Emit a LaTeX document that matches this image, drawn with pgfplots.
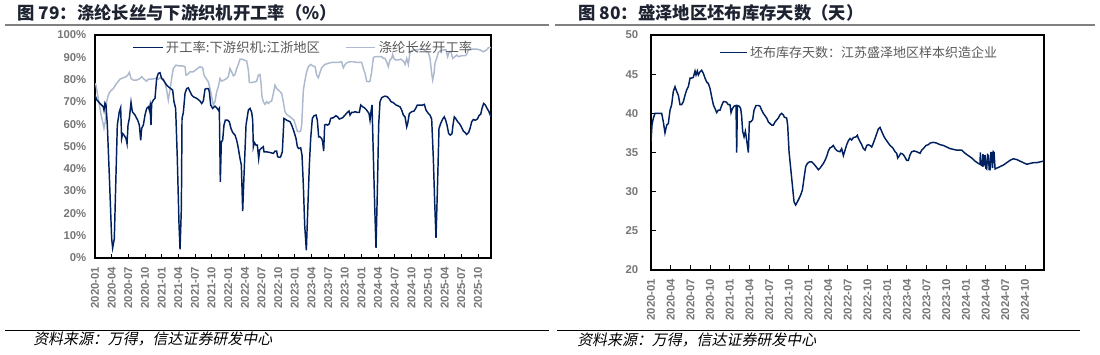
\documentclass[border=0pt]{standalone}
\usepackage{fontspec}
\setmainfont{Liberation Sans}
\newfontfamily\cjk{Noto Sans CJK SC}
\newfontfamily\cjksrc[FakeSlant=0.2]{Noto Sans CJK SC}
\usepackage{pgfplots}
\pgfplotsset{compat=1.18}
\definecolor{navy}{RGB}{0,32,96}
\definecolor{lblue}{RGB}{173,185,205}
\definecolor{tickgray}{RGB}{118,118,118}
\definecolor{leggray}{RGB}{89,89,89}
\definecolor{rulegray}{RGB}{128,128,128}
\definecolor{titlecol}{RGB}{30,35,50}
\begin{document}
\begin{tikzpicture}[x=0.75pt,y=0.75pt]
\path[use as bounding box] (0,0) rectangle (1100,354);
% titles and rules
\node[anchor=west,inner sep=0pt,font=\cjk\bfseries\fontsize{13}{15}\selectfont,text=titlecol] at (17,341) {图 79：涤纶长丝与下游织机开工率（\%）};
\node[anchor=west,inner sep=0pt,font=\cjk\bfseries\fontsize{13}{15}\selectfont,text=titlecol] at (578,341) {图 80：盛泽地区坯布库存天数（天）};
\draw[rulegray,line width=1.5pt] (5,329)--(549,329);
\draw[rulegray,line width=1.5pt] (555,329)--(1095,329);
\draw[black,line width=0.75pt] (5,23.5)--(549,23.5);
\draw[black,line width=0.75pt] (557,23.5)--(1080,23.5);
\node[anchor=west,inner sep=0pt,font=\cjksrc\fontsize{11.2}{13}\selectfont] at (33,15) {资料来源：万得，信达证券研发中心};
\node[anchor=west,inner sep=0pt,font=\cjksrc\fontsize{11.2}{13}\selectfont] at (577,14) {资料来源：万得，信达证券研发中心};

%% LEFT PANEL
\begin{axis}[
  at={(71.25pt,72pt)}, anchor=south west, scale only axis,
  width=297pt, height=167.25pt,
  xmin=0, xmax=71.35, ymin=0, ymax=100,
  xtick={0,3,...,69},
  xticklabels={2020-01,2020-04,2020-07,2020-10,2021-01,2021-04,2021-07,2021-10,2022-01,2022-04,2022-07,2022-10,2023-01,2023-04,2023-07,2023-10,2024-01,2024-04,2024-07,2024-10,2025-01,2025-04,2025-07,2025-10},
  ytick={0,10,...,100},
  yticklabels={0\%,10\%,20\%,30\%,40\%,50\%,60\%,70\%,80\%,90\%,100\%},
  axis line style={black,line width=0.9pt},
  tick align=inside, xtick pos=bottom, ytick pos=left,
  major tick length=3pt,
  xtick style={black,line width=0.6pt},
  ytick style={draw=none},
  tick label style={font=\fontsize{8.5}{10}\selectfont\bfseries,text=tickgray},
  yticklabel style={xshift=-3pt},
  xticklabel style={rotate=90,anchor=east},
  xticklabel shift=3pt,
  legend columns=2,
  legend style={draw=none,fill=none,at={(0.094,0.943)},anchor=west,inner sep=0pt,
    font=\cjk\fontsize{10}{12}\selectfont,text=leggray,
    /tikz/every even column/.append style={column sep=17pt}},
  legend cell align=left,
  legend image code/.code={\draw[#1] (0pt,0pt) -- (22pt,0pt);},
]
\addplot[lblue,line width=1.1pt,forget plot] coordinates {
(0,78.3) (0.18,77.5) (0.48,73.1) (0.78,68.6) (1.08,64.4) (1.38,61.1) (1.62,58.1) (1.86,61.1) (2.1,70.1) (2.4,73.1) (2.7,74.6) (3.3,76.0) (3.9,78.3) (4.5,80.2) (5.1,80.8) (5.59,81.3) (5.89,82.0) (6.19,83.2) (6.49,80.5) (6.91,79.8) (7.51,79.8) (8.11,80.5) (8.41,81.3) (8.83,80.2) (9.31,79.3) (9.61,80.2) (10.21,80.2) (10.81,80.5) (11.41,80.2) (11.71,80.8) (12.31,80.5) (12.61,78.3) (12.91,75.3) (13.21,70.8) (13.51,75.3) (13.81,80.5) (14.11,85.0) (14.59,86.5) (15.02,86.2) (15.62,86.2) (16.22,85.8) (16.4,82.0) (16.7,82.3) (17.12,83.5) (17.72,83.5) (18.32,84.7) (18.92,85.8) (19.4,85.3) (19.64,82.0) (20.0,80.5) (20.42,79.0) (20.72,76.0) (21.02,72.3) (21.32,68.6) (21.62,70.1) (21.92,74.6) (22.22,76.8) (22.52,80.5) (22.82,79.3) (23.24,79.8) (23.72,80.5) (24.02,81.3) (24.32,85.0) (24.62,83.5) (24.92,81.7) (25.23,82.3) (25.53,85.0) (25.83,86.8) (26.13,89.2) (26.43,89.2) (26.85,88.8) (27.33,88.3) (27.63,84.3) (27.81,78.7) (28.23,78.7) (28.83,79.0) (29.13,79.3) (29.43,82.0) (29.73,82.3) (29.91,78.3) (30.09,72.3) (30.33,70.1) (30.63,68.9) (30.93,70.1) (31.23,69.3) (31.53,70.1) (31.83,70.4) (32.13,73.8) (32.43,77.5) (32.73,76.0) (33.21,74.9) (33.63,73.8) (33.93,70.1) (34.23,65.6) (34.53,64.4) (35.14,63.3) (35.86,61.8) (36.22,58.8) (36.46,56.9) (36.79,56.6) (37.06,56.9) (37.24,59.6) (37.54,75.3) (37.84,79.8) (38.14,83.5) (38.44,85.8) (38.86,86.8) (39.22,86.2) (39.64,85.8) (39.94,82.0) (40.24,80.8) (40.54,83.2) (40.84,85.3) (41.44,86.8) (42.04,87.3) (42.64,87.7) (43.24,87.7) (43.84,87.7) (44.44,88.0) (44.74,85.3) (45.05,86.8) (45.47,87.7) (45.95,88.0) (46.55,88.0) (47.15,87.7) (47.75,87.7) (48.05,87.7) (48.35,85.0) (48.65,82.8) (48.95,79.3) (49.25,79.0) (49.55,79.3) (49.85,83.5) (50.15,89.8) (50.45,90.3) (51.05,90.3) (51.65,90.3) (51.95,89.5) (52.25,89.5) (52.55,88.0) (52.85,85.8) (53.15,88.8) (53.45,89.5) (53.63,91.3) (53.87,89.5) (54.11,88.8) (54.65,88.8) (55.08,89.2) (55.56,88.3) (55.86,86.8) (56.16,89.5) (56.46,86.8) (56.76,92.5) (57.36,93.3) (57.96,93.3) (58.56,93.6) (59.16,93.6) (59.76,92.5) (60.06,92.2) (60.36,89.5) (60.66,82.8) (60.84,79.8) (61.08,82.8) (61.26,87.3) (61.56,89.5) (61.86,92.2) (62.16,92.8) (62.76,93.3) (63.24,93.3) (63.54,90.3) (63.84,92.5) (64.14,92.5) (64.44,89.5) (64.86,90.3) (65.17,91.0) (65.47,90.3) (66.07,90.7) (66.67,90.7) (66.97,91.3) (67.27,93.3) (67.57,93.7) (68.17,93.7) (68.77,93.7) (69.37,93.3) (69.97,92.5) (70.57,93.3) (70.87,94.3) (71.35,94.3)
};
\addplot[navy,line width=1.1pt] coordinates {
(0,73) (0.3,71) (0.9,69.3) (1.5,67.8) (1.62,66.3) (1.8,69.5) (1.98,68.6) (2.22,59.6) (2.58,37.1) (3.0,8.7) (3.18,4.5) (3.48,8.7) (3.78,37.1) (4.02,59.6) (4.38,65.6) (4.62,67.4) (4.8,53.6) (4.98,55.8) (5.23,55.1) (5.59,53.6) (5.77,51.3) (5.95,59.6) (6.19,62.6) (6.49,69.8) (6.73,65.6) (7.21,64.1) (7.69,61.8) (7.99,59.6) (8.23,52.8) (8.41,58.1) (8.71,59.6) (9.01,64.1) (9.31,67.1) (9.61,67.8) (9.79,66.3) (9.91,68.1) (10.09,59.6) (10.21,69.3) (10.51,70.8) (10.81,71.6) (11.11,80.5) (11.41,82.8) (11.71,83.1) (12.01,80.5) (12.31,79.8) (12.61,78.7) (12.91,77.5) (13.21,76.8) (13.63,76.0) (13.99,75.3) (14.23,70.1) (14.53,67.1) (14.83,44.6) (15.14,14.7) (15.32,3.9) (15.56,22.2) (15.68,62.6) (15.92,65.3) (16.22,73.8) (16.52,76.0) (16.82,76.3) (17.12,74.6) (17.42,73.1) (17.72,72.3) (18.32,71.6) (18.92,70.4) (19.22,69.3) (19.52,70.4) (19.82,75.7) (20.12,76.0) (20.42,76.0) (20.6,74.6) (20.84,68.6) (21.2,67.1) (21.62,68.1) (21.92,67.4) (22.22,66.3) (22.4,67.1) (22.58,34.1) (22.76,52.1) (23.0,52.8) (23.24,59.6) (23.48,61.8) (23.9,61.8) (24.2,61.1) (24.5,58.1) (24.8,56.3) (25.23,55.1) (25.53,52.8) (25.83,49.1) (26.13,44.6) (26.37,41.6) (26.61,21.0) (26.85,37.1) (27.21,59.6) (27.63,66.3) (27.93,67.1) (28.23,65.3) (28.41,61.8) (28.53,49.9) (28.71,51.8) (29.01,50.6) (29.25,50.6) (29.49,44.6) (29.67,48.4) (29.91,49.1) (30.33,49.9) (30.45,47.6) (30.93,47.6) (31.53,47.3) (32.13,46.9) (32.43,47.9) (32.73,47.9) (32.91,45.4) (33.33,45.1) (33.45,45.4) (33.75,47.6) (34.05,62.6) (34.53,61.8) (35.14,61.1) (35.44,59.6) (35.86,56.6) (36.22,53.6) (36.46,49.9) (36.7,49.1) (37.06,49.4) (37.3,46.1) (37.54,32.6) (37.78,14.7) (38.08,3.4) (38.32,20.7) (38.62,41.6) (38.86,53.6) (39.16,62.6) (39.46,63.8) (39.82,64.1) (40.06,61.8) (40.3,54.3) (40.54,54.3) (40.84,53.6) (41.02,52.1) (41.2,47.9) (41.38,59.6) (41.62,59.9) (41.92,59.6) (42.22,60.2) (42.46,62.6) (42.94,62.9) (43.42,63.8) (43.72,63.3) (44.02,62.3) (44.32,62.6) (44.62,62.9) (45.05,64.1) (45.47,65.3) (45.77,65.9) (45.95,64.1) (46.25,65.3) (46.55,65.3) (46.85,65.6) (47.27,65.3) (47.63,65.3) (47.87,68.6) (48.23,67.8) (48.53,67.4) (48.95,66.3) (49.37,64.8) (49.55,61.8) (49.73,65.6) (49.91,68.6) (50.15,46.1) (50.39,23.7) (50.63,4.5) (50.87,29.6) (51.11,59.6) (51.35,70.1) (51.65,71.9) (51.95,72.3) (52.25,72.6) (52.67,72.3) (53.03,71.3) (53.33,70.1) (53.63,69.8) (53.93,69.3) (54.23,68.6) (54.53,68.3) (54.95,67.8) (55.26,66.3) (55.56,64.1) (55.86,63.3) (56.16,58.8) (56.34,60.3) (56.64,64.8) (57.06,65.6) (57.48,65.9) (57.78,67.1) (58.08,68.6) (58.56,68.6) (59.04,68.6) (59.34,68.9) (59.64,66.3) (60.06,64.8) (60.36,64.1) (60.66,62.3) (60.96,44.6) (61.2,25.1) (61.44,9.0) (61.68,29.6) (61.98,58.1) (62.28,60.3) (62.64,62.3) (62.94,63.3) (63.18,61.8) (63.42,59.6) (63.72,55.8) (64.02,55.1) (64.32,55.8) (64.5,59.6) (64.74,63.3) (64.98,62.6) (65.35,61.1) (65.65,60.3) (66.01,58.8) (66.37,56.9) (66.67,56.3) (66.97,55.4) (67.33,56.3) (67.57,58.1) (67.87,61.1) (68.17,62.1) (68.53,61.8) (68.89,62.3) (69.25,64.1) (69.49,64.4) (69.73,67.1) (70.03,69.3) (70.33,68.6) (70.63,67.1) (70.93,65.9) (71.35,63.3)
};
\addlegendentry{开工率:下游织机:江浙地区}
\addlegendimage{lblue,line width=1.1pt}
\addlegendentry{涤纶长丝开工率}
\end{axis}

%% RIGHT PANEL
\begin{axis}[
  at={(488.25pt,63pt)}, anchor=south west, scale only axis,
  width=294.75pt, height=176.25pt,
  xmin=0, xmax=59.9, ymin=20, ymax=50,
  xtick={0,3,...,57},
  xticklabels={2020-01,2020-04,2020-07,2020-10,2021-01,2021-04,2021-07,2021-10,2022-01,2022-04,2022-07,2022-10,2023-01,2023-04,2023-07,2023-10,2024-01,2024-04,2024-07,2024-10},
  ytick={20,25,...,50},
  /pgf/number format/assume math mode=true,
  axis line style={black,line width=0.9pt},
  tick align=inside, xtick pos=bottom, ytick pos=left,
  major tick length=3.5pt,
  tick style={black,line width=0.6pt},
  tick label style={font=\fontsize{8.5}{10}\selectfont\bfseries,text=tickgray},
  yticklabel style={xshift=-6pt},
  xticklabel style={rotate=90,anchor=east},
  xticklabel shift=3pt,
  legend style={draw=none,fill=none,at={(0.173,0.925)},anchor=west,inner sep=0pt,
    font=\cjk\fontsize{9.75}{12}\selectfont,text=leggray},
  legend cell align=left,
  legend image code/.code={\draw[#1] (0pt,0pt) -- (20pt,0pt);},
]
\addplot[navy,line width=1.1pt] coordinates {
(0,36.4) (0.15,38.5) (0.36,39.4) (0.61,40.0) (1.12,40.0) (1.63,40.0) (1.88,38.9) (2.13,37.5) (2.39,38.5) (2.64,38.7) (2.90,40.4) (3.15,41.1) (3.40,42.8) (3.66,43.4) (3.91,42.8) (4.17,42.3) (4.42,41.1) (4.67,41.1) (4.93,41.5) (5.18,42.3) (5.44,43.0) (5.69,43.4) (5.95,44.5) (6.20,44.5) (6.45,44.6) (6.71,45.4) (6.86,44.9) (7.06,45.4) (7.22,44.9) (7.47,45.3) (7.72,45.5) (7.98,45.1) (8.23,44.5) (8.49,44.0) (8.74,43.8) (8.99,43.2) (9.25,42.1) (9.50,41.1) (9.76,40.6) (10.01,40.1) (10.26,40.4) (10.52,40.4) (10.77,41.0) (11.03,41.5) (11.28,41.5) (11.53,41.4) (11.79,41.1) (12.04,41.1) (12.20,40.1) (12.40,40.6) (12.65,40.9) (12.86,41.0) (12.96,41.0) (13.06,35.0) (13.16,41.0) (13.47,40.9) (13.67,40.6) (13.82,39.6) (13.97,37.7) (14.18,37.0) (14.38,37.7) (14.58,36.6) (14.84,35.0) (14.99,38.9) (15.19,38.9) (15.50,39.2) (15.70,40.4) (16.01,41.0) (16.36,41.0) (16.62,40.9) (16.87,40.4) (17.12,40.0) (17.63,39.4) (17.89,38.9) (18.14,38.7) (18.39,38.5) (18.65,38.5) (18.90,38.9) (19.41,39.4) (19.66,39.8) (19.92,40.0) (20.17,39.8) (20.33,39.5) (20.68,39.4) (20.83,38.5) (21.04,35.1) (21.29,33.0) (21.54,30.9) (21.80,28.7) (22.05,28.3) (22.31,28.7) (22.61,29.2) (22.82,29.6) (23.07,30.2) (23.32,31.7) (23.58,33.2) (23.83,33.6) (24.14,33.8) (24.49,33.8) (24.75,33.6) (25.15,33.2) (25.51,32.8) (25.76,33.0) (26.27,33.6) (26.52,34.0) (26.78,34.5) (27.03,35.2) (27.29,35.6) (27.54,35.7) (27.79,35.9) (28.05,35.5) (28.40,35.2) (28.81,35.1) (29.06,35.5) (29.32,34.6) (29.57,35.3) (29.83,36.0) (30.08,36.5) (30.34,36.8) (30.59,36.6) (30.84,36.9) (31.25,37.0) (31.45,37.2) (31.61,36.8) (31.86,36.4) (32.11,36.0) (32.37,35.5) (32.62,35.3) (32.88,35.9) (33.13,36.0) (33.38,35.9) (33.64,35.7) (33.89,36.2) (34.15,36.8) (34.40,37.4) (34.65,38.0) (34.91,38.2) (35.16,37.7) (35.42,37.2) (35.67,36.8) (35.92,36.5) (36.18,36.2) (36.43,35.9) (36.84,35.6) (37.20,35.1) (37.45,34.9) (37.60,34.3) (37.86,34.6) (38.06,34.9) (38.36,34.8) (38.57,34.6) (38.77,34.3) (38.97,34.0) (39.23,34.0) (39.48,34.7) (39.74,35.1) (40.09,35.2) (40.50,35.1) (40.75,35.0) (41.01,34.9) (41.26,35.3) (41.51,35.5) (41.92,35.9) (42.28,36.0) (42.53,36.2) (43.04,36.3) (43.55,36.2) (44.05,36.0) (44.56,35.9) (45.07,35.7) (45.58,35.5) (46.09,35.4) (46.59,35.3) (47.10,35.3) (47.36,35.3) (47.87,34.9) (48.37,34.6) (48.88,34.3) (49.39,33.9) (49.90,33.6) (50.15,33.5) (50.2,35.0) (50.3,33.4) (50.5,33.3) (50.6,34.8) (50.7,33.2) (50.91,34.7) (51.05,33.0) (51.17,32.9) (51.3,34.7) (51.42,34.6) (51.55,32.8) (51.68,32.8) (51.8,35.0) (51.93,35.0) (52.05,33.0) (52.18,35.1) (52.29,35.0) (52.44,32.9) (52.69,33.0) (53.20,33.2) (53.71,33.4) (54.22,33.7) (54.73,34.0) (55.23,34.2) (55.74,34.1) (56.25,33.9) (56.76,33.7) (57.27,33.5) (57.77,33.6) (58.28,33.7) (58.79,33.7) (59.30,33.8) (59.81,33.9)
};
\addlegendentry{坯布库存天数：江苏盛泽地区样本织造企业}
\end{axis}
\end{tikzpicture}
\end{document}
